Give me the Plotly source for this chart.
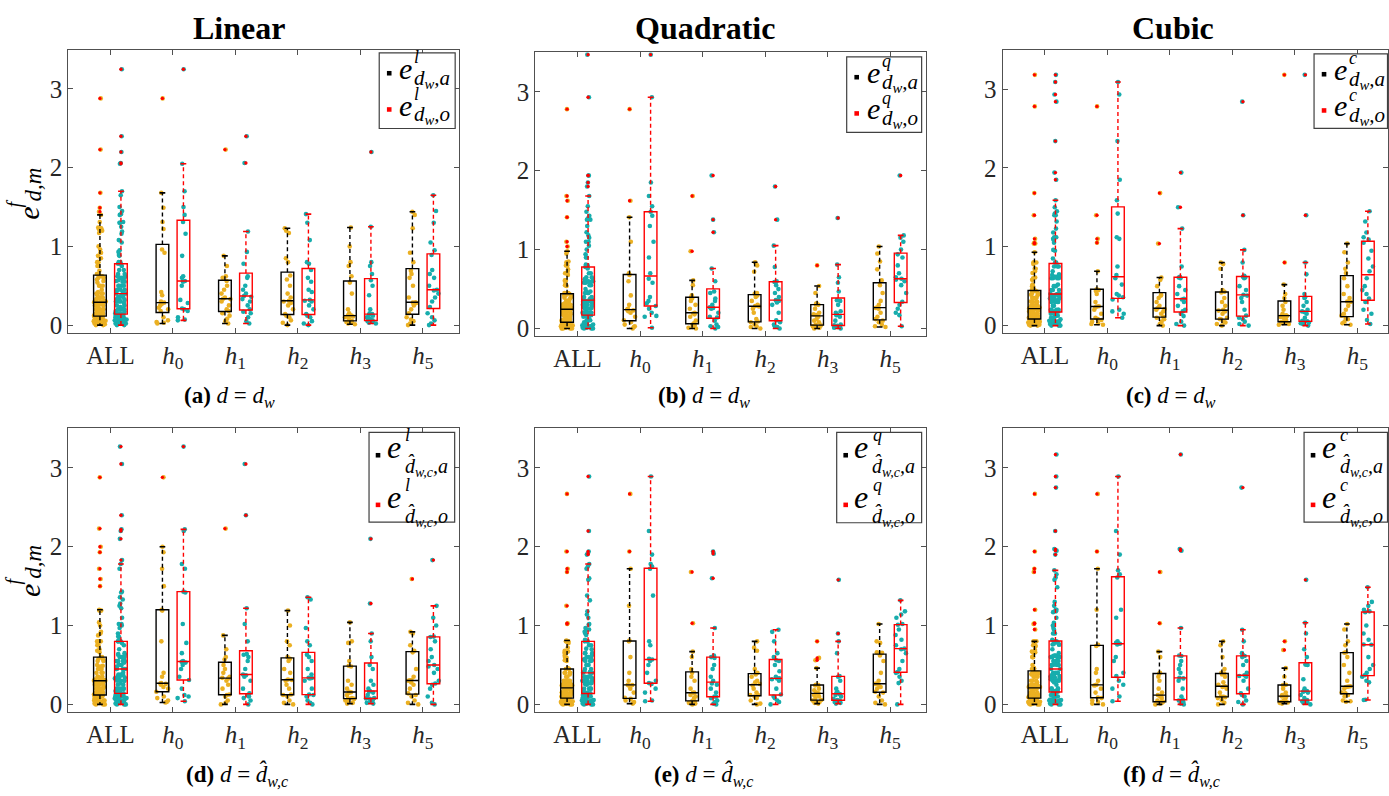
import numpy as np
import plotly.graph_objects as go

W, H = 1389, 796
SERIF = "Liberation Serif"
ORANGE = "#EBB022"
TEAL = "#17ADAD"

categories = ["ALL", "h0", "h1", "h2", "h3", "h5"]
tick_labels = ["ALL", "<i>h</i><sub>0</sub>", "<i>h</i><sub>1</sub>", "<i>h</i><sub>2</sub>",
               "<i>h</i><sub>3</sub>", "<i>h</i><sub>5</sub>"]
y_ticks = [0, 1, 2, 3]
col_titles = ["Linear", "Quadratic", "Cubic"]
captions = ["<b>(a)</b> <i>d</i> = <i>d</i><sub><i>w</i></sub>",
            "<b>(b)</b> <i>d</i> = <i>d</i><sub><i>w</i></sub>",
            "<b>(c)</b> <i>d</i> = <i>d</i><sub><i>w</i></sub>",
            "<b>(d)</b> <i>d</i> = <i>d\u0302</i><sub><i>w,c</i></sub>",
            "<b>(e)</b> <i>d</i> = <i>d\u0302</i><sub><i>w,c</i></sub>",
            "<b>(f)</b> <i>d</i> = <i>d\u0302</i><sub><i>w,c</i></sub>"]
model_letters = ["l", "q", "c", "l", "q", "c"]

# each series: groups h0, h1, h2, h3, h5 (ALL = all of them together)
lin_w_a = [
    [0.02, 0.03, 0.04, 0.06, 0.10, 0.18, 0.20, 0.22, 0.25, 0.27, 0.285, 0.30, 0.38, 0.42, 0.92, 0.96, 1.22, 1.31, 1.49, 1.68, 2.88],
    [0.02, 0.05, 0.08, 0.12, 0.15, 0.18, 0.20, 0.25, 0.30, 0.33, 0.335, 0.35, 0.40, 0.45, 0.50, 0.56, 0.60, 0.62, 0.75, 0.88, 2.23],
    [0.00, 0.03, 0.06, 0.10, 0.12, 0.14, 0.20, 0.25, 0.28, 0.30, 0.31, 0.35, 0.40, 0.50, 0.58, 0.63, 0.80, 0.85, 1.17, 1.20, 1.23],
    [0.01, 0.02, 0.03, 0.04, 0.05, 0.055, 0.08, 0.10, 0.11, 0.115, 0.12, 0.13, 0.15, 0.20, 0.40, 0.54, 0.62, 0.75, 0.80, 1.00, 1.24],
    [0.00, 0.02, 0.05, 0.07, 0.10, 0.15, 0.20, 0.25, 0.28, 0.285, 0.29, 0.35, 0.50, 0.60, 0.65, 0.69, 0.80, 0.92, 1.23, 1.40, 1.44],
]
lin_w_o = [
    [0.06, 0.07, 0.10, 0.18, 0.20, 0.21, 0.28, 0.32, 0.50, 0.55, 0.56, 0.60, 0.62, 0.88, 1.16, 1.31, 1.40, 1.50, 1.70, 2.05, 3.25],
    [0.02, 0.05, 0.10, 0.15, 0.17, 0.20, 0.25, 0.30, 0.33, 0.36, 0.37, 0.40, 0.45, 0.50, 0.60, 0.62, 0.78, 0.93, 1.19, 2.06, 2.40],
    [0.00, 0.02, 0.05, 0.10, 0.12, 0.14, 0.20, 0.25, 0.30, 0.31, 0.32, 0.42, 0.45, 0.55, 0.60, 0.70, 0.78, 0.80, 1.08, 1.30, 1.41],
    [0.02, 0.03, 0.04, 0.05, 0.055, 0.06, 0.08, 0.10, 0.12, 0.13, 0.14, 0.15, 0.20, 0.38, 0.50, 0.57, 0.65, 0.75, 0.80, 1.25, 2.20],
    [0.00, 0.02, 0.06, 0.10, 0.15, 0.23, 0.30, 0.35, 0.40, 0.44, 0.45, 0.50, 0.60, 0.65, 0.70, 0.89, 0.95, 1.05, 1.30, 1.45, 1.65],
]
quad_w_a = [
    [0.00, 0.02, 0.03, 0.05, 0.08, 0.105, 0.15, 0.20, 0.22, 0.23, 0.24, 0.25, 0.30, 0.42, 0.60, 0.68, 0.70, 1.10, 1.41, 1.62, 2.78],
    [0.00, 0.01, 0.02, 0.04, 0.05, 0.065, 0.10, 0.15, 0.18, 0.19, 0.20, 0.25, 0.30, 0.35, 0.38, 0.39, 0.42, 0.55, 0.61, 0.98, 1.68],
    [0.00, 0.02, 0.03, 0.05, 0.08, 0.09, 0.12, 0.20, 0.25, 0.28, 0.285, 0.30, 0.35, 0.40, 0.42, 0.44, 0.45, 0.72, 0.80, 0.84],
    [0.00, 0.01, 0.02, 0.03, 0.04, 0.046, 0.08, 0.10, 0.12, 0.15, 0.17, 0.18, 0.20, 0.25, 0.30, 0.306, 0.32, 0.45, 0.54, 0.80],
    [0.02, 0.03, 0.05, 0.08, 0.10, 0.12, 0.15, 0.20, 0.25, 0.26, 0.27, 0.30, 0.35, 0.45, 0.55, 0.61, 0.75, 0.85, 0.95, 1.04],
]
quad_w_o = [
    [0.01, 0.15, 0.16, 0.20, 0.25, 0.285, 0.32, 0.35, 0.40, 0.58, 0.63, 0.70, 0.90, 1.10, 1.30, 1.43, 1.48, 1.55, 1.68, 1.85, 2.93, 3.47],
    [0.00, 0.02, 0.03, 0.05, 0.10, 0.14, 0.15, 0.20, 0.25, 0.26, 0.27, 0.30, 0.35, 0.38, 0.45, 0.47, 0.60, 0.76, 1.22, 1.38, 1.94],
    [0.00, 0.02, 0.03, 0.05, 0.08, 0.105, 0.20, 0.30, 0.33, 0.35, 0.36, 0.40, 0.45, 0.50, 0.55, 0.59, 0.60, 0.78, 1.05, 1.38, 1.80],
    [0.00, 0.01, 0.02, 0.03, 0.035, 0.04, 0.05, 0.10, 0.15, 0.17, 0.18, 0.20, 0.22, 0.30, 0.35, 0.36, 0.47, 0.58, 0.65, 0.81, 1.40],
    [0.03, 0.17, 0.20, 0.25, 0.30, 0.34, 0.45, 0.55, 0.60, 0.62, 0.63, 0.65, 0.70, 0.80, 0.90, 0.94, 1.00, 1.10, 1.15, 1.18, 1.94],
]
cub_w_a = [
    [0.01, 0.02, 0.03, 0.05, 0.07, 0.084, 0.10, 0.15, 0.20, 0.23, 0.24, 0.245, 0.30, 0.40, 0.44, 0.45, 0.46, 0.69, 1.05, 1.10, 1.40, 2.78],
    [0.00, 0.02, 0.05, 0.08, 0.10, 0.11, 0.15, 0.18, 0.20, 0.21, 0.22, 0.25, 0.30, 0.35, 0.38, 0.39, 0.50, 0.58, 0.61, 1.04, 1.68],
    [0.00, 0.02, 0.04, 0.05, 0.08, 0.084, 0.10, 0.15, 0.18, 0.19, 0.20, 0.25, 0.30, 0.35, 0.42, 0.43, 0.45, 0.72, 0.78, 0.80],
    [0.01, 0.02, 0.03, 0.04, 0.045, 0.05, 0.07, 0.10, 0.11, 0.12, 0.126, 0.13, 0.15, 0.20, 0.25, 0.30, 0.35, 0.40, 0.52, 0.80, 3.18],
    [0.01, 0.03, 0.05, 0.08, 0.10, 0.126, 0.15, 0.20, 0.25, 0.30, 0.306, 0.35, 0.40, 0.50, 0.60, 0.667, 0.72, 0.80, 0.93, 1.04],
]
cub_w_o = [
    [0.10, 0.15, 0.18, 0.20, 0.33, 0.36, 0.38, 0.40, 0.52, 0.60, 0.64, 0.75, 1.10, 1.12, 1.42, 1.59, 1.85, 2.34, 2.93, 3.09],
    [0.00, 0.02, 0.05, 0.12, 0.15, 0.18, 0.20, 0.25, 0.30, 0.33, 0.34, 0.40, 0.45, 0.50, 0.60, 0.61, 0.62, 0.75, 1.23, 1.50, 1.94],
    [0.00, 0.02, 0.05, 0.08, 0.10, 0.126, 0.20, 0.30, 0.35, 0.38, 0.39, 0.45, 0.50, 0.60, 0.61, 0.62, 0.63, 0.80, 0.96, 1.40, 2.84],
    [0.00, 0.02, 0.03, 0.04, 0.05, 0.055, 0.06, 0.10, 0.15, 0.17, 0.18, 0.20, 0.25, 0.30, 0.35, 0.36, 0.40, 0.65, 0.80, 1.40, 3.18],
    [0.02, 0.07, 0.15, 0.20, 0.30, 0.344, 0.40, 0.45, 0.50, 0.60, 0.69, 0.75, 0.85, 0.95, 1.05, 1.09, 1.12, 1.18, 1.32, 1.45],
]
lin_h_a = [
    [0.025, 0.03, 0.05, 0.08, 0.10, 0.16, 0.20, 0.22, 0.25, 0.26, 0.265, 0.27, 0.35, 0.40, 0.80, 1.19, 1.20, 1.50, 1.72, 1.93, 2.00, 2.88],
    [0.00, 0.02, 0.05, 0.10, 0.12, 0.126, 0.20, 0.25, 0.30, 0.33, 0.337, 0.35, 0.40, 0.45, 0.50, 0.57, 0.60, 0.70, 0.875, 2.23],
    [0.00, 0.02, 0.05, 0.10, 0.12, 0.126, 0.20, 0.25, 0.30, 0.31, 0.316, 0.40, 0.45, 0.55, 0.58, 0.60, 0.75, 0.80, 1.00, 1.19],
    [0.01, 0.02, 0.03, 0.05, 0.07, 0.076, 0.08, 0.12, 0.15, 0.155, 0.16, 0.20, 0.25, 0.30, 0.48, 0.49, 0.55, 0.78, 0.80, 1.04],
    [0.00, 0.02, 0.05, 0.10, 0.12, 0.14, 0.20, 0.25, 0.28, 0.30, 0.307, 0.31, 0.35, 0.45, 0.66, 0.68, 0.75, 0.90, 0.92, 1.59],
]
lin_h_o = [
    [0.04, 0.08, 0.10, 0.12, 0.20, 0.31, 0.35, 0.45, 0.50, 0.53, 0.54, 0.55, 0.65, 0.78, 1.02, 1.42, 1.43, 1.72, 1.78, 2.20, 2.22, 3.27],
    [0.00, 0.05, 0.08, 0.10, 0.12, 0.14, 0.20, 0.30, 0.35, 0.37, 0.38, 0.45, 0.55, 0.60, 0.63, 0.64, 0.80, 1.02, 1.22, 2.40, 3.05],
    [0.00, 0.02, 0.05, 0.10, 0.12, 0.126, 0.20, 0.30, 0.33, 0.335, 0.337, 0.38, 0.45, 0.55, 0.60, 0.63, 0.75, 0.80, 0.97, 1.33, 1.36],
    [0.01, 0.02, 0.03, 0.05, 0.07, 0.076, 0.08, 0.12, 0.15, 0.16, 0.17, 0.20, 0.25, 0.30, 0.45, 0.50, 0.60, 0.80, 0.90, 1.28, 2.10],
    [0.00, 0.02, 0.10, 0.20, 0.25, 0.265, 0.30, 0.40, 0.45, 0.48, 0.50, 0.55, 0.60, 0.70, 0.80, 0.855, 0.86, 1.00, 1.10, 1.25, 1.83],
]
quad_h_a = [
    [0.01, 0.02, 0.03, 0.05, 0.07, 0.084, 0.15, 0.20, 0.24, 0.245, 0.25, 0.30, 0.40, 0.60, 0.80, 0.81, 1.25, 1.72, 1.94, 2.67],
    [0.00, 0.01, 0.02, 0.03, 0.04, 0.046, 0.08, 0.10, 0.12, 0.14, 0.147, 0.15, 0.20, 0.30, 0.35, 0.40, 0.45, 0.60, 0.67, 1.03, 1.68],
    [0.00, 0.01, 0.05, 0.08, 0.10, 0.118, 0.12, 0.15, 0.20, 0.24, 0.26, 0.28, 0.30, 0.35, 0.38, 0.40, 0.45, 0.68, 0.72, 0.80],
    [0.01, 0.02, 0.03, 0.04, 0.05, 0.055, 0.08, 0.10, 0.12, 0.135, 0.14, 0.15, 0.18, 0.20, 0.24, 0.244, 0.25, 0.46, 0.56, 0.59, 0.80],
    [0.00, 0.02, 0.05, 0.10, 0.15, 0.16, 0.20, 0.22, 0.25, 0.26, 0.265, 0.30, 0.40, 0.55, 0.62, 0.656, 0.66, 0.78, 0.80, 1.02],
]
quad_h_o = [
    [0.04, 0.05, 0.15, 0.20, 0.26, 0.27, 0.30, 0.40, 0.50, 0.55, 0.57, 0.58, 0.75, 0.80, 1.38, 1.72, 1.75, 1.78, 1.90, 2.20, 2.89],
    [0.00, 0.01, 0.03, 0.05, 0.08, 0.097, 0.10, 0.15, 0.20, 0.25, 0.265, 0.30, 0.35, 0.45, 0.50, 0.59, 0.60, 0.62, 0.97, 1.60, 1.91, 1.94],
    [0.00, 0.03, 0.05, 0.08, 0.10, 0.126, 0.20, 0.30, 0.32, 0.33, 0.33, 0.35, 0.42, 0.50, 0.55, 0.56, 0.60, 0.65, 0.80, 0.92, 0.946],
    [0.01, 0.02, 0.03, 0.04, 0.05, 0.055, 0.07, 0.10, 0.12, 0.13, 0.14, 0.16, 0.20, 0.30, 0.35, 0.36, 0.65, 0.80, 0.90, 1.58],
    [0.00, 0.27, 0.30, 0.35, 0.40, 0.41, 0.45, 0.55, 0.65, 0.70, 0.707, 0.75, 0.82, 0.88, 0.95, 1.01, 1.02, 1.10, 1.14, 1.18, 1.32],
]
cub_h_a = [
    [0.00, 0.01, 0.03, 0.05, 0.08, 0.088, 0.15, 0.20, 0.24, 0.245, 0.25, 0.30, 0.40, 0.45, 0.74, 0.757, 1.20, 1.72, 1.94, 2.67],
    [0.00, 0.01, 0.02, 0.025, 0.03, 0.034, 0.05, 0.08, 0.10, 0.11, 0.118, 0.15, 0.20, 0.30, 0.35, 0.39, 0.40, 0.60, 0.67, 1.03, 1.68],
    [0.00, 0.02, 0.05, 0.08, 0.09, 0.097, 0.10, 0.15, 0.20, 0.22, 0.23, 0.25, 0.28, 0.35, 0.38, 0.39, 0.40, 0.45, 0.60, 0.75, 0.80],
    [0.01, 0.02, 0.025, 0.03, 0.032, 0.034, 0.05, 0.08, 0.10, 0.102, 0.105, 0.12, 0.15, 0.20, 0.24, 0.244, 0.25, 0.35, 0.46, 0.69, 0.80],
    [0.034, 0.04, 0.05, 0.10, 0.12, 0.14, 0.15, 0.20, 0.22, 0.225, 0.23, 0.30, 0.40, 0.50, 0.60, 0.656, 0.66, 0.75, 0.80, 0.95, 1.02],
]
cub_h_o = [
    [0.04, 0.10, 0.20, 0.25, 0.30, 0.36, 0.40, 0.55, 0.60, 0.76, 0.77, 0.78, 0.80, 1.10, 1.20, 1.61, 1.65, 1.70, 1.90, 2.20, 2.89],
    [0.00, 0.01, 0.02, 0.03, 0.05, 0.063, 0.10, 0.20, 0.30, 0.33, 0.337, 0.40, 0.45, 0.50, 0.55, 0.614, 0.62, 0.97, 1.95, 1.97, 3.17],
    [0.00, 0.03, 0.05, 0.10, 0.12, 0.14, 0.20, 0.30, 0.35, 0.36, 0.37, 0.40, 0.50, 0.55, 0.60, 0.614, 0.62, 0.65, 0.80, 0.946, 2.75],
    [0.00, 0.02, 0.03, 0.04, 0.05, 0.055, 0.08, 0.12, 0.15, 0.16, 0.168, 0.17, 0.20, 0.32, 0.50, 0.505, 0.60, 0.70, 0.90, 1.035, 1.58],
    [0.055, 0.06, 0.28, 0.30, 0.35, 0.37, 0.40, 0.45, 0.50, 0.60, 0.757, 0.76, 0.82, 0.90, 1.00, 1.17, 1.18, 1.20, 1.25, 1.30, 1.485],
]

series_a = [lin_w_a, quad_w_a, cub_w_a, lin_h_a, quad_h_a, cub_h_a]
series_o = [lin_w_o, quad_w_o, cub_w_o, lin_h_o, quad_h_o, cub_h_o]

# layout geometry in pixels: (left, right, top, bottom)
frames = [(68.3, 459.3, 50.0, 335.5), (535.7, 926.7, 52.7, 339.0), (1003.3, 1389.0, 50.0, 336.0),
          (68.3, 459.3, 431.7, 717.7), (535.7, 926.7, 431.7, 717.7), (1003.3, 1389.0, 431.7, 717.7)]
x_ranges = [(-0.675, 5.577), (-0.676, 5.574), (-0.678, 5.49),
            (-0.675, 5.577), (-0.676, 5.574), (-0.678, 5.49)]
legend_frames = [(379.5, 53.3, 455.5, 129.5), (847.3, 57.3, 922.3, 133.3), (1315.0, 54.3, 1388.5, 129.3),
                 (369.3, 435.7, 455.0, 526.0), (837.3, 435.7, 922.3, 526.7), (1305.0, 435.7, 1388.5, 526.0)]

AXC = "#505050"
TXC = "#262626"
BOXGAP, GROUPGAP = 0.328, 0.396
OFF = 0.25 * (1 - BOXGAP)                          # centre offset of each box within its category
CAP = 0.45 * 0.25 * (1 - BOXGAP) * (1 - GROUPGAP)  # half-length of the whisker caps

fig = go.Figure()


def px_x(v):
    return v / W


def px_y(v):
    return 1 - v / H


def box_stats(vals):
    q1, med, q3 = np.percentile(vals, [25, 50, 75], method="hazen")
    iqr = q3 - q1
    lo, hi = q1 - 1.5 * iqr, q3 + 1.5 * iqr
    inside = [v for v in vals if lo <= v <= hi]
    outs = [v for v in vals if v < lo or v > hi]
    return q1, med, q3, min(inside), max(inside), outs


positions = list(range(len(categories)))

for k in range(6):
    sfx = "" if k == 0 else str(k + 1)
    xa, ya = "x" + sfx, "y" + sfx
    for key, sign, data, mcol, lcol in (("a", -1, series_a[k], ORANGE, "black"),
                                        ("o", 1, series_o[k], TEAL, "red")):
        groups = [[v for grp in data for v in grp]] + data
        xs, ys = [], []
        for pos, grp in zip(positions, groups):
            xs += [pos] * len(grp)
            ys += grp
        # jittered sample points
        fig.add_trace(go.Box(x=xs, y=ys, boxpoints="all", jitter=1, pointpos=0,
                             marker=dict(color=mcol, size=4.6, line=dict(width=0)),
                             line=dict(color="rgba(0,0,0,0)", width=0), fillcolor="rgba(0,0,0,0)",
                             offsetgroup=key, xaxis=xa, yaxis=ya, showlegend=False, hoverinfo="skip"))
        st = [box_stats(g) for g in groups]
        q1s = [s[0] for s in st]
        meds = [s[1] for s in st]
        q3s = [s[2] for s in st]
        # boxes with medians
        fig.add_trace(go.Box(x=positions, q1=q1s, median=meds, q3=q3s, lowerfence=q1s, upperfence=q3s,
                             boxpoints=False, line=dict(color=lcol, width=1.4), fillcolor="rgba(0,0,0,0)",
                             whiskerwidth=0, offsetgroup=key, xaxis=xa, yaxis=ya,
                             showlegend=False, hoverinfo="skip"))
        # dashed whiskers, solid caps, outliers
        wx, wy, cx, cy, ox, oy = [], [], [], [], [], []
        for pos, (q1, med, q3, wl, wh, outs) in zip(positions, st):
            xc = pos + sign * OFF
            wx += [xc, xc, None, xc, xc, None]
            wy += [q3, wh, None, q1, wl, None]
            cx += [xc - CAP, xc + CAP, None, xc - CAP, xc + CAP, None]
            cy += [wh, wh, None, wl, wl, None]
            ox += [xc] * len(outs)
            oy += outs
        fig.add_trace(go.Scatter(x=wx, y=wy, mode="lines", line=dict(color=lcol, width=1.4, dash="4px,3px"),
                                 xaxis=xa, yaxis=ya, showlegend=False, hoverinfo="skip"))
        fig.add_trace(go.Scatter(x=cx, y=cy, mode="lines", line=dict(color=lcol, width=1.6),
                                 xaxis=xa, yaxis=ya, showlegend=False, hoverinfo="skip"))
        fig.add_trace(go.Scatter(x=ox, y=oy, mode="markers", marker=dict(color="red", size=3.4, line=dict(width=0)),
                                 xaxis=xa, yaxis=ya, showlegend=False, hoverinfo="skip"))

layout = dict(width=W, height=H, margin=dict(l=0, r=0, t=0, b=0),
              paper_bgcolor="white", plot_bgcolor="white",
              boxmode="group", boxgap=BOXGAP, boxgroupgap=GROUPGAP,
              font=dict(family=SERIF, color=TXC))
for k in range(6):
    sfx = "" if k == 0 else str(k + 1)
    L, R, T, B = frames[k]
    layout["xaxis" + sfx] = dict(domain=[px_x(L), px_x(R)], range=list(x_ranges[k]),
                                 tickvals=positions, ticktext=tick_labels,
                                 anchor="y" + sfx, showline=True, mirror="ticks", linecolor=AXC, linewidth=1,
                                 ticks="inside", ticklen=5, tickcolor=AXC, showgrid=False, zeroline=False,
                                 tickfont=dict(family=SERIF, size=25, color=TXC))
    layout["yaxis" + sfx] = dict(domain=[px_y(B), px_y(T)], range=[-0.1, 3.5], tickvals=y_ticks,
                                 anchor="x" + sfx, showline=True, mirror="ticks", linecolor=AXC, linewidth=1,
                                 ticks="inside", ticklen=5, tickcolor=AXC, showgrid=False, zeroline=False,
                                 tickfont=dict(family=SERIF, size=25, color=TXC))
fig.update_layout(**layout)

annotations = []
shapes = []


def ann(x, y, text, size, xanchor="center", yanchor="middle", angle=0):
    annotations.append(dict(x=px_x(x), y=px_y(y), xref="paper", yref="paper", text=text, showarrow=False,
                            font=dict(family=SERIF, size=size, color="black"), xanchor=xanchor,
                            yanchor=yanchor, textangle=angle))


# column titles
for txt, cx in zip(col_titles, [239, 706, 1174]):
    ann(cx, 28, "<b>%s</b>" % txt, 32)

# captions
for txt, (cx, cy) in zip(captions, [(230, 400), (705, 400), (1172, 400), (237, 781), (704, 781), (1172, 781)]):
    ann(cx, cy, txt, 23)

# y-axis labels
for dy in (0, 380):
    ann(29.0, 214.5 + dy, "<i>e</i>", 30, angle=-90)
    ann(14.0, 205.0 + dy, "<i>f</i>", 20, angle=-90)
    ann(34.0, 186.0 + dy, "<i>d,m</i>", 23, angle=-90)

# legends
for k in range(6):
    L, T, R, B = legend_frames[k]
    shapes.append(dict(type="rect", xref="paper", yref="paper", x0=px_x(L), x1=px_x(R), y0=px_y(B), y1=px_y(T),
                       line=dict(color="#404040", width=1.2), fillcolor="white", layer="above"))
    letter = model_letters[k]
    hat = k >= 3
    for row, (tag, col) in enumerate((("a", "black"), ("o", "red"))):
        if hat:
            dy = 50 * row
            sq = (L + 9, T + 23 + dy)
            e_pos = (L + 15.5, T + 15 + dy)
            sup_pos = (L + 34, T + 3 + dy)
            sub_pos = (L + 33.5, T + 35 + dy)
            sub_txt = "<i>d\u0302</i><sub><i>w,c</i></sub><i>,%s</i>" % tag
            esize, ssize = 32, 20
        else:
            dy = 36.5 * row
            sq = (L + 10, T + 20.5 + dy)
            e_pos = (L + 18, T + 16 + dy)
            sup_pos = (L + 33, T + 4.5 + dy)
            sub_pos = (L + 33, T + 26 + dy)
            sub_txt = "<i>d</i><sub><i>w</i></sub><i>,%s</i>" % tag
            esize, ssize = 30, 21
        shapes.append(dict(type="rect", xref="paper", yref="paper",
                           x0=px_x(sq[0] - 2.3), x1=px_x(sq[0] + 2.3), y0=px_y(sq[1] + 2.3), y1=px_y(sq[1] - 2.3),
                           line=dict(width=0), fillcolor=col, layer="above"))
        ann(e_pos[0], e_pos[1], "<i>e</i>", esize, xanchor="left")
        ann(sup_pos[0], sup_pos[1], "<i>%s</i>" % letter, 18, xanchor="left")
        ann(sub_pos[0], sub_pos[1], sub_txt, ssize, xanchor="left")

fig.update_layout(annotations=annotations, shapes=shapes)
fig.write_html("out.html", config={"displayModeBar": False},
               post_script="document.body.style.margin='0px';")
